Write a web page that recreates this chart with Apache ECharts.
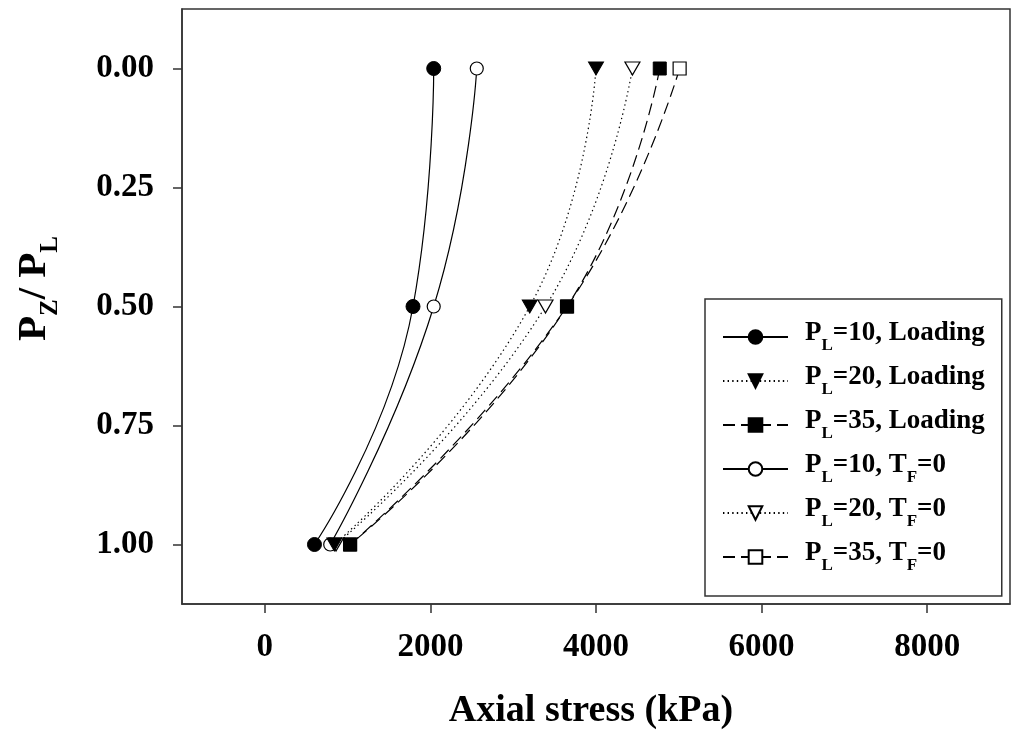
<!DOCTYPE html>
<html>
<head>
<meta charset="utf-8">
<script src="https://cdn.jsdelivr.net/npm/echarts@6/dist/echarts.min.js"></script>
<style>
  html, body { margin: 0; padding: 0; background: #fff; }
  #chart { width: 1012px; height: 735px; }
</style>
</head>
<body>
<div id="chart"></div>
<script>
// Depth ratio Pz/PL at which the axial stress was taken
const depthRatio = [0, 0.5, 1.0];

// Axial stress (kPa) at each depth ratio
const load10 = [2040, 1790, 600];
const load20 = [4000, 3200, 840];
const load35 = [4770, 3650, 1030];
const free10 = [2560, 2040, 790];
const free20 = [4440, 3390, 860];
const free35 = [5010, 3650, 1030];

// Tick values
const xTicks = [0, 2000, 4000, 6000, 8000];
const yTicks = [0, 0.25, 0.5, 0.75, 1.0];

// Legend entries: [P_L value, case]
const seriesNames = ['PL=10, Loading', 'PL=20, Loading', 'PL=35, Loading',
                     'PL=10, TF=0', 'PL=20, TF=0', 'PL=35, TF=0'];
const legendLoad = [10, 20, 35, 10, 20, 35];
const legendCase = ['Loading', 'Loading', 'Loading', 'TF', 'TF', 'TF'];

const FONT = '"Liberation Serif", "Times New Roman", serif';

function pairs(xs) {
  return xs.map((x, i) => [x, depthRatio[i]]);
}

const DOT = [1.4, 3.2];
const DASH = [12, 6];

function makeSeries(name, xs, lineType, symbol, rotate, size, filled) {
  return {
    name: name,
    type: 'line',
    data: pairs(xs),
    smooth: 0.5,
    symbol: symbol,
    symbolSize: size,
    symbolRotate: rotate,
    showAllSymbol: true,
    lineStyle: { color: '#000', width: 1.2, type: lineType },
    itemStyle: filled
      ? { color: '#000', borderColor: '#000', borderWidth: 1 }
      : { color: '#fff', borderColor: '#000', borderWidth: 1.2 },
    emphasis: { disabled: true },
    animation: false
  };
}

const series = [
  // open-symbol (TF=0) curves drawn first so the loading symbols sit on top
  makeSeries(seriesNames[3], free10, 'solid', 'circle', 0, 13, false),
  makeSeries(seriesNames[4], free20, DOT, 'triangle', 180, [15, 13], false),
  makeSeries(seriesNames[5], free35, DASH, 'rect', 0, 13, false),
  makeSeries(seriesNames[0], load10, 'solid', 'circle', 0, 14, true),
  makeSeries(seriesNames[1], load20, DOT, 'triangle', 180, [15, 13], true),
  makeSeries(seriesNames[2], load35, DASH, 'rect', 0, 13, true)
];

function legendLabel(name) {
  const i = seriesNames.indexOf(name);
  let s = '{p|P}{s|L}{t|=' + legendLoad[i] + ', ';
  if (legendCase[i] === 'Loading') {
    s += 'Loading}';
  } else {
    s += 'T}{s|F}{t|=0}';
  }
  return s;
}

const chart = echarts.init(document.getElementById('chart'), null, { renderer: 'canvas' });

chart.setOption({
  backgroundColor: '#fff',
  animation: false,
  grid: {
    left: 182, top: 9, right: 2, bottom: 130,
    show: true, borderColor: '#333', borderWidth: 1.5
  },
  xAxis: {
    type: 'value',
    min: -1000, max: 9000,
    name: 'Axial stress (kPa)',
    nameLocation: 'middle',
    nameGap: 88,
    nameTextStyle: { fontFamily: FONT, fontWeight: 'bold', fontSize: 38, color: '#000', padding: [0, 10, 0, 0] },
    axisLine: { show: true, onZero: false, lineStyle: { color: '#333', width: 1.5 } },
    axisTick: { show: true, inside: false, length: 9, customValues: xTicks, lineStyle: { color: '#333', width: 1.5 } },
    axisLabel: {
      customValues: xTicks, margin: 27,
      formatter: v => String(v),
      fontFamily: FONT, fontWeight: 'bold', fontSize: 33, color: '#000'
    },
    splitLine: { show: false }
  },
  yAxis: {
    type: 'value',
    inverse: true,
    min: -0.125, max: 1.125,
    name: '{p|P}{s|Z}{p|/ P}{s|L}',
    nameLocation: 'middle',
    nameGap: 118,
    nameTextStyle: {
      color: '#000',
      padding: [0, 0, 0, 36],
      rich: {
        p: { fontFamily: FONT, fontWeight: 'bold', fontSize: 41, lineHeight: 50, verticalAlign: 'top', color: '#000' },
        s: { fontFamily: FONT, fontWeight: 'bold', fontSize: 25, lineHeight: 50, verticalAlign: 'top', padding: [24, 0, 0, 0], color: '#000' }
      }
    },
    axisLine: { show: true, onZero: false, lineStyle: { color: '#333', width: 1.5 } },
    axisTick: { show: true, inside: false, length: 9, customValues: yTicks, lineStyle: { color: '#333', width: 1.5 } },
    axisLabel: {
      customValues: yTicks, margin: 28,
      formatter: v => v.toFixed(2),
      fontFamily: FONT, fontWeight: 'bold', fontSize: 33, color: '#000'
    },
    splitLine: { show: false }
  },
  legend: {
    data: seriesNames,
    orient: 'vertical',
    left: 705, top: 299,
    padding: [21, 17, 22, 17],
    itemWidth: 65,
    itemHeight: 17,
    itemGap: 10,
    borderColor: '#333',
    borderWidth: 1.5,
    backgroundColor: '#fff',
    selectedMode: false,
    inactiveColor: '#000',
    formatter: legendLabel,
    textStyle: {
      color: '#000',
      rich: {
        p: { fontFamily: FONT, fontWeight: 'bold', fontSize: 27, lineHeight: 34, verticalAlign: 'top', padding: [0, 0, 0, 12], color: '#000' },
        t: { fontFamily: FONT, fontWeight: 'bold', fontSize: 27, lineHeight: 34, verticalAlign: 'top', color: '#000' },
        s: { fontFamily: FONT, fontWeight: 'bold', fontSize: 17, lineHeight: 34, verticalAlign: 'top', padding: [17, 0, 0, 0], color: '#000' }
      }
    }
  },
  series: series
});
</script>
</body>
</html>
